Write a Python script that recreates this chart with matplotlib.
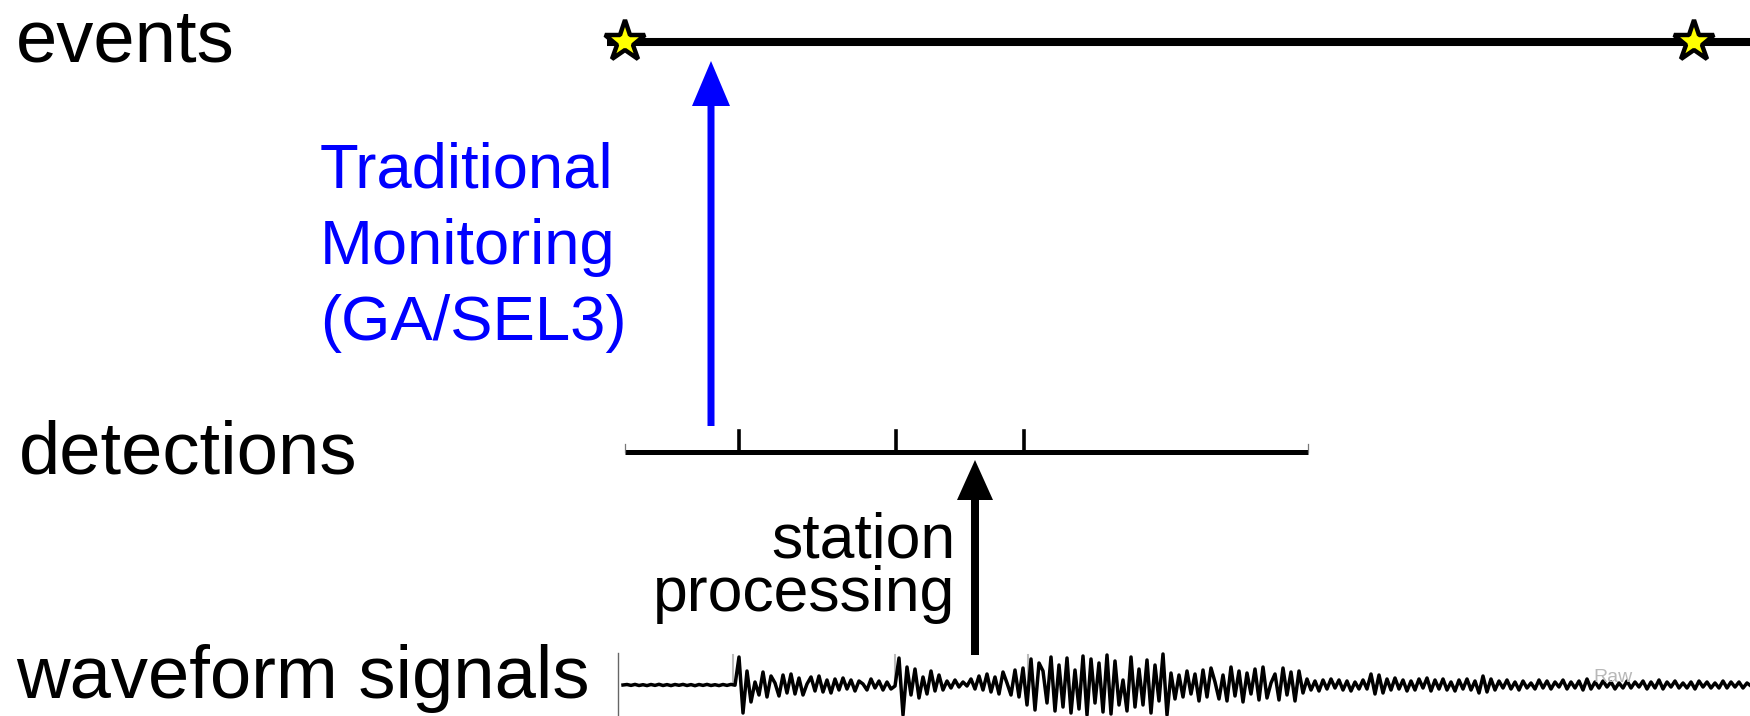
import matplotlib
matplotlib.use("Agg")
import matplotlib.pyplot as plt
import numpy as np

plt.rcParams["font.family"] = ["Liberation Sans", "DejaVu Sans"]

# timeline positions (pixel time axis)
event_times = [625, 1694]
detection_times = [739, 896, 1024]
onset_times = [733, 895, 1028]

# waveform amplitude samples (px, up positive), one every 4 px from x=623
waveform_amplitude = [
    0.0, 0.5, -0.4, 0.6, -0.5, 0.3, -0.6, 0.5, -0.4, 0.7,
    -0.5, 0.4, -0.6, 0.5, -0.3, 0.6, -0.5, 0.4, -0.7, 0.5,
    -0.4, 0.6, -0.5, 0.3, -0.6, 0.5, -0.4, 0.6, -0.2,
    # first onset
    28, -28, 14, -17, 3, -10, 13, -12, 9, 2,
    -11, 10, -8, 11, -9, 7, -10, 1, 8, -6,
    9, -7, 5, -8, 6, -5, 7, -4, 5, -6,
    4, 1, -5, 6, -3, 4, -5, 3, -4, -1,
    # second onset
    27, -30, 18, -10, 16, -13, 8, -9, 14, -6,
    10, -5, 4, -3, 5, -2, 3, -1, 6, -4,
    9, -5, 11, -7, 8, -9, 13, 2, -10, 15,
    -12, 17,
    # main arrival
    -20, 26, -25, 22, 14, -18, 28, -26, 20, -22,
    27, -28, 15, -24, 29, -30, 26, -18, 22, -27,
    30, -29, 24, -20, 5, -26, 28, -22, 16, -20,
    25, -28, 20, -16, 31, -30, 12, -14, 10, -12,
    14, -9, 11,
    # coda
    -16, 15, -12, 17, 3, -14, 10, -16, 18, -11,
    14, -17, 12, -9, 16, -15, 18, -13, 2, 11,
    -15, 17, -10, 13, -16, 14, -8,
    6, -5, 4, -6, 5, -4, 6, -3, 5, -5, 4, -6, 3, -4, 5, -4,
    11, -9, 10, -8,
    6, -5, 7, -4, 5, -6, 4, -5, 6, -3,
    7, -6, 5, -4, 6, -5, 3, -6, 5, -4,
    6, -5, 4,
    -8, 9, -7, 6, -5,
    4, -3, 5, -4, 3, -5, 4, -3, 2, -4,
    5, -3, 4, -4, 3, -2, 5, -4, 3, -3,
    4, -5, 6, -4, 3, -3, 4, -2, 3, -4,
    2, -3, 4, -3, 3, -2, 4, -4, 3, -3,
    5, -4, 3, -2, 4, -3, 2, -3, 3, -4,
    4, -2, 3, -3, 2, -3, 4, -3, 3, -2,
    3, -3, 2, -1,
]

W, H = 1750, 716
fig = plt.figure(figsize=(W / 100, H / 100), dpi=100)
ax = fig.add_axes([0, 0, 1, 1])
ax.set_xlim(0, W)
ax.set_ylim(H, 0)
ax.axis("off")

# row labels
label_size = 53.5
ax.text(16, 61, "events", fontsize=label_size, va="baseline", ha="left")
ax.text(19, 474, "detections", fontsize=label_size, va="baseline", ha="left")
ax.text(16, 698, "waveform signals", fontsize=label_size, va="baseline", ha="left")

# events timeline
events_y = 42
ax.plot([607, W + 5], [events_y, events_y], color="black", lw=5.8,
        solid_capstyle="butt", zorder=2)
ax.plot(event_times, [events_y] * len(event_times), ls="none", marker="*",
        ms=31, mfc="yellow", mec="black", mew=3.2, zorder=3)

# detections timeline
det_y = 452
ax.plot([625, 1308], [det_y, det_y], color="black", lw=3.6,
        solid_capstyle="butt", zorder=2)
for t in detection_times:
    ax.plot([t, t], [det_y, 431], color="black", lw=2.6, zorder=2)
for t in (625, 1308):
    ax.plot([t, t], [det_y, 444], color="#777777", lw=0.9, zorder=2)

# waveform
wave = np.asarray(waveform_amplitude, dtype=float)
wave_x = 623 + 4 * np.arange(len(wave))
wave_y0 = 685
ax.plot([618, 618], [653, H], color="#666666", lw=1.0)
for t in onset_times:
    ax.plot([t, t], [655, 682], color="#bbbbbb", lw=1.5, zorder=1)
ax.plot(wave_x, wave_y0 - wave, color="black", lw=2.5, zorder=2)
ax.text(1613, 677, "Raw", fontsize=14, color="#b8b8b8", ha="center", va="center")

# arrows
ax.arrow(711, 426, 0, 61 - 426, width=7, head_width=38, head_length=45,
         length_includes_head=True, color="blue", lw=0, zorder=4)
ax.arrow(975, 655, 0, 460 - 655, width=8, head_width=36, head_length=40,
         length_includes_head=True, color="black", lw=0, zorder=4)

# arrow captions
blue_lines = ["Traditional", "Monitoring", "(GA/SEL3)"]
for line, base in zip(blue_lines, [187, 264, 340]):
    ax.text(320, base, line, fontsize=45.6, color="blue", va="baseline", ha="left")
for line, base in zip(["station", "processing"], [557, 611]):
    ax.text(955, base, line, fontsize=45, color="black", va="baseline", ha="right")

fig.savefig("out.png", dpi=100)
